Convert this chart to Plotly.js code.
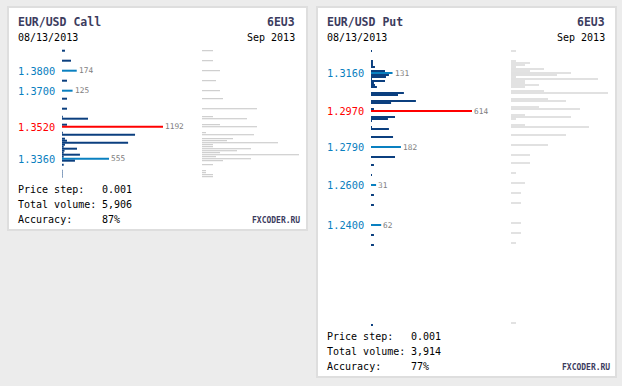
<!DOCTYPE html>
<html>
<head>
<meta charset="utf-8">
<script src="https://cdn.plot.ly/plotly-3.0.1.min.js"></script>
<style>
html,body{margin:0;padding:0;background:#ececec;}
#chart{width:622px;height:386px;}
</style>
</head>
<body>
<div id="chart"></div>
<script>
// ---------- DATA ----------
// EUR/USD Call (left panel)
var callPrices  = [1.3900,1.3850,1.3800,1.3750,1.3700,1.3660,1.3610,1.3570,1.3560,1.3530,1.3520,1.3490,1.3480,1.3460,1.3450,1.3440,1.3430,1.3420,1.3410,1.3400,1.3390,1.3380,1.3370,1.3360,1.3350,1.3330,1.3300,1.3290,1.3280,1.3270];
var callVolumes = [35,106,174,59,125,59,59,10,307,59,1192,10,862,35,59,780,35,20,177,30,20,212,20,555,153,20,6,6,6,6];
var callGrayPrices = [1.3900,1.3850,1.3800,1.3750,1.3700,1.3660,1.3610,1.3570,1.3560,1.3530,1.3520,1.3490,1.3480,1.3460,1.3450,1.3440,1.3430,1.3420,1.3410,1.3400,1.3390,1.3380,1.3370,1.3360,1.3350,1.3330,1.3300,1.3290,1.3280,1.3270];
var callGrayValues = [11,11,18,14,18,21,55,11,45,18,55,4,52,31,25,76,11,11,49,35,18,97,14,49,21,11,4,4,11,11];
var callLabeled = [1.3800,1.3700,1.3360];

// EUR/USD Put (right panel)
var putPrices  = [1.3270,1.3220,1.3210,1.3200,1.3190,1.3170,1.3160,1.3150,1.3140,1.3130,1.3120,1.3110,1.3100,1.3090,1.3060,1.3050,1.3020,1.3010,1.2980,1.2970,1.2940,1.2930,1.2920,1.2890,1.2880,1.2840,1.2790,1.2740,1.2700,1.2650,1.2600,1.2550,1.2500,1.2400,1.2350,1.2300,1.1900];
var putVolumes = [6,12,12,12,24,85,131,109,91,6,85,18,24,36,200,164,273,122,18,614,146,103,6,6,109,134,182,146,18,6,31,18,18,62,18,18,12];
var putGrayPrices = [1.3270,1.3220,1.3210,1.3200,1.3190,1.3180,1.3170,1.3160,1.3150,1.3140,1.3130,1.3120,1.3110,1.3100,1.3090,1.3070,1.3060,1.3030,1.3020,1.2990,1.2980,1.2950,1.2940,1.2930,1.2900,1.2890,1.2850,1.2800,1.2750,1.2710,1.2660,1.2610,1.2560,1.2510,1.2410,1.2360,1.2310,1.1910];
var putGrayValues = [5,5,19,14,5,33,19,60,46,5,87,14,14,28,14,33,97,37,55,28,69,14,60,5,14,78,55,37,19,19,5,14,10,10,10,10,5,5];
var putLabeled = [1.3160,1.2790,1.2600,1.2400];

// texts
var callTitle = "EUR/USD Call", putTitle = "EUR/USD Put";
var codeText = "6EU3", monthText = "Sep 2013", dateText = "08/13/2013";
var callStep = "0.001", callTotal = "5,906", callAcc = "87%";
var putStep = "0.001", putTotal = "3,914", putAcc = "77%";

// ---------- STYLE ----------
var W = 622, H = 386;
var DARK = '#0b3f7f', LIGHT = '#0a80c0', RED = '#ff0000', GRAY = '#c4c4c4';
var NAVY = '#3c3c5e', MONO = 'DejaVu Sans Mono';
function px(x){return x/W;}
function py(y){return 1 - y/H;}

function colorsFor(prices, vols, labeled){
  var mx = Math.max.apply(null, vols);
  return prices.map(function(p,i){
    if (vols[i] === mx) return RED;
    if (labeled.indexOf(p) >= 0) return LIGHT;
    return DARK;
  });
}

var traces = [
  {type:'bar', orientation:'h', x:callVolumes, y:callPrices, width:0.001, xaxis:'x', yaxis:'y',
   marker:{color:colorsFor(callPrices,callVolumes,callLabeled), line:{width:0}}, hoverinfo:'skip'},
  {type:'bar', orientation:'h', x:callGrayValues, y:callGrayPrices, width:0.0005, xaxis:'x2', yaxis:'y',
   marker:{color:GRAY, line:{width:0}}, hoverinfo:'skip'},
  {type:'bar', orientation:'h', x:putVolumes, y:putPrices, width:0.001, xaxis:'x3', yaxis:'y2',
   marker:{color:colorsFor(putPrices,putVolumes,putLabeled), line:{width:0}}, hoverinfo:'skip'},
  {type:'bar', orientation:'h', x:putGrayValues, y:putGrayPrices, width:0.0005, xaxis:'x4', yaxis:'y2',
   marker:{color:GRAY, line:{width:0}}, hoverinfo:'skip'}
];

var ann = [];
function txt(x, y, text, opt){
  opt = opt || {};
  ann.push({xref:'paper', yref:'paper', x:px(x), y:py(y), text:text, showarrow:false,
    xanchor:opt.xa||'left', yanchor:'middle', borderpad:0, borderwidth:0,
    font:{family:MONO, size:opt.size||10, color:opt.color||'#000'}});
}
function panelTexts(x0, xr, bottom, title, step, total, acc){
  txt(x0, 22, '<b>'+title+'</b>', {size:11.5, color:NAVY});
  txt(xr, 22, '<b>'+codeText+'</b>', {size:11.5, color:NAVY, xa:'right'});
  txt(x0, 37, dateText, {size:10});
  txt(xr, 37, monthText, {size:10, xa:'right'});
  txt(x0, bottom-41, 'Price step:');
  txt(x0+84, bottom-41, step);
  txt(x0, bottom-26, 'Total volume:');
  txt(x0+84, bottom-26, total);
  txt(x0, bottom-11, 'Accuracy:');
  txt(x0+84, bottom-11, acc);
  txt(xr+5, bottom-10, '<b>FXCODER.RU</b>', {size:8, color:NAVY, xa:'right'});
}
panelTexts(17.7, 295, 230, callTitle, callStep, callTotal, callAcc);
panelTexts(326.7, 605, 377, putTitle, putStep, putTotal, putAcc);

function priceLabels(prices, vols, labeled, xa, ya, xLab){
  var mx = Math.max.apply(null, vols);
  prices.forEach(function(p,i){
    var isMax = vols[i] === mx;
    if (!isMax && labeled.indexOf(p) < 0) return;
    ann.push({xref:'paper', yref:ya, x:px(xLab), y:p, text:p.toFixed(4), showarrow:false,
      xanchor:'left', yanchor:'middle', borderpad:0, borderwidth:0,
      font:{family:MONO, size:10.3, color:isMax?RED:LIGHT}});
    ann.push({xref:xa, yref:ya, x:vols[i], y:p, text:String(vols[i]), showarrow:false,
      xanchor:'left', yanchor:'middle', xshift:2, borderpad:0, borderwidth:0,
      font:{family:MONO, size:7.8, color:'#808080'}});
  });
}
priceLabels(callPrices, callVolumes, callLabeled, 'x', 'y', 17.7);
priceLabels(putPrices, putVolumes, putLabeled, 'x3', 'y2', 326.7);

var shapes = [
  {type:'rect', xref:'paper', yref:'paper', x0:px(8), x1:px(307), y0:py(230), y1:py(7),
   fillcolor:'#ffffff', line:{color:'#dedede', width:2}, layer:'below'},
  {type:'rect', xref:'paper', yref:'paper', x0:px(317), x1:px(616), y0:py(377), y1:py(7),
   fillcolor:'#ffffff', line:{color:'#dedede', width:2}, layer:'below'}
];

function hid(extra){
  var o = {visible:false, fixedrange:true};
  for (var k in extra) o[k] = extra[k];
  return o;
}
var callMax = Math.max.apply(null, callVolumes), putMax = Math.max.apply(null, putVolumes);
var cgMax = Math.max.apply(null, callGrayValues), pgMax = Math.max.apply(null, putGrayValues);

var layout = {
  width:W, height:H, margin:{l:0,r:0,t:0,b:0,pad:0},
  paper_bgcolor:'#ececec', plot_bgcolor:'rgba(0,0,0,0)',
  showlegend:false, barmode:'overlay', hovermode:false,
  xaxis:  hid({domain:[px(62),  px(62+101)],  range:[0,callMax], anchor:'y'}),
  xaxis2: hid({domain:[px(202), px(202+97)],  range:[0,cgMax],   anchor:'y'}),
  xaxis3: hid({domain:[px(371), px(371+101)], range:[0,putMax],  anchor:'y2'}),
  xaxis4: hid({domain:[px(511), px(511+97)],  range:[0,pgMax],   anchor:'y2'}),
  yaxis:  hid({domain:[0,1], range:[1.3520 - (H-126.7)/2000, 1.3520 + 126.7/2000], anchor:'x'}),
  yaxis2: hid({domain:[0,1], range:[1.2970 - (H-111)/2000, 1.2970 + 111/2000], anchor:'x3'}),
  annotations: ann, shapes: shapes
};

Plotly.newPlot('chart', traces, layout, {staticPlot:true, displayModeBar:false});
</script>
</body>
</html>
